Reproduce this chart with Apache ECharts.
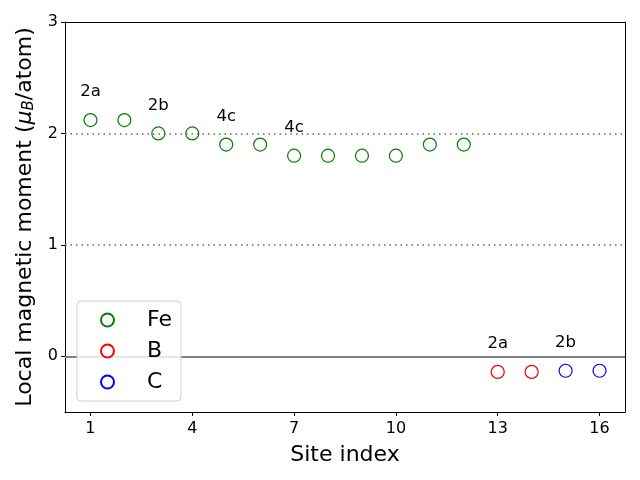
<!DOCTYPE html>
<html><head><meta charset="utf-8">
<script src="https://cdn.jsdelivr.net/npm/echarts@6/dist/echarts.min.js"></script>
<style>html,body{margin:0;padding:0;background:#fff}#c{width:640px;height:480px}</style>
</head><body><div id="c"></div>
<script>
const feSites = [1,2,3,4,5,6,7,8,9,10,11,12];
const feMoments = [2.12,2.12,2.0,2.0,1.9,1.9,1.8,1.8,1.8,1.8,1.9,1.9];
const bSites = [13,14];
const bMoments = [-0.14,-0.14];
const cSites = [15,16];
const cMoments = [-0.13,-0.13];
const annotX = [1,3,5,7,13,15];
const annotY = [2.37,2.25,2.15,2.05,0.11,0.12];
const annotText = ['2a','2b','4c','4c','2a','2b'];
const xTicks = [1,4,7,10,13,16];
const yTicks = [0,1,2,3];
const refLines = [2,1];
const zeroLine = 0;

const font = 'DejaVu Sans';
const pairs = (xs, ys) => xs.map((x,i)=>[x, ys[i]]);
const chart = echarts.init(document.getElementById('c'), null, {renderer:'canvas'});

function pointSeries(name, xs, ys, color){
  return {
    name, type:'scatter', data: pairs(xs, ys), symbol:'circle', symbolSize:13,
    itemStyle:{color:'rgba(255,255,255,0)', borderColor:color, borderWidth:1.2, opacity:1},
    emphasis:{disabled:true},
    z:5
  };
}

const option = {
  animation:false,
  textStyle:{fontFamily:font},
  grid:{left:65, right:15, top:22, bottom:68, containLabel:false},
  xAxis:[{
    type:'value', min:0.25, max:16.75,
    name:'Site index', nameLocation:'middle', nameGap:32,
    nameTextStyle:{fontSize:22, color:'#000', fontFamily:font},
    axisLine:{show:true, onZero:false, lineStyle:{color:'#000', width:1}},
    axisTick:{show:true, length:4, customValues:xTicks, lineStyle:{color:'#000'}},
    axisLabel:{customValues:xTicks, fontSize:16, color:'#000', margin:9, fontFamily:font},
    splitLine:{show:false}
  },{
    type:'value', min:0.25, max:16.75, position:'top',
    axisLine:{show:true, onZero:false, lineStyle:{color:'#000', width:1}},
    axisTick:{show:false}, axisLabel:{show:false}, splitLine:{show:false}
  }],
  yAxis:[{
    type:'value', min:-0.5, max:3,
    name:'{n|Local magnetic moment (}{m|μ}{s|B}{n|/atom)}', nameLocation:'middle', nameGap:28,
    nameTextStyle:{rich:{
      n:{fontSize:22, color:'#000', fontFamily:font},
      m:{fontSize:22, color:'#000', fontFamily:font, fontStyle:'italic'},
      s:{fontSize:15, color:'#000', fontFamily:font, fontStyle:'italic', padding:[9,0,0,0]}
    }},
    axisLine:{show:true, onZero:false, lineStyle:{color:'#000', width:1}},
    axisTick:{show:true, length:4, customValues:yTicks, lineStyle:{color:'#000'}},
    axisLabel:{customValues:yTicks, fontSize:16, color:'#000', margin:7, fontFamily:font},
    splitLine:{show:false}
  },{
    type:'value', min:-0.5, max:3, position:'right',
    axisLine:{show:true, onZero:false, lineStyle:{color:'#000', width:1}},
    axisTick:{show:false}, axisLabel:{show:false}, splitLine:{show:false}
  }],
  legend:{
    orient:'vertical', left:77, top:301, z:10,
    data:['Fe','B','C'],
    itemWidth:13, itemHeight:13, itemGap:9,
    padding:[8,9,8,23],
    backgroundColor:'rgba(255,255,255,0.8)', borderColor:'#d0d0d0', borderWidth:1, borderRadius:4,
    textStyle:{fontSize:22, color:'#000', fontFamily:font, padding:[0,0,0,28]}
  },
  series:[
    pointSeries('Fe', feSites, feMoments, '#008000'),
    pointSeries('B', bSites, bMoments, '#ff0000'),
    pointSeries('C', cSites, cMoments, '#0000ff'),
    {
      type:'scatter', name:'annot', data: annotX.map((x,i)=>[x, annotY[i], annotText[i]]),
      symbolSize:0, silent:true, itemStyle:{opacity:1}, emphasis:{disabled:true},
      label:{show:true, position:'inside', formatter:p=>p.data[2], fontSize:16.5, color:'#000', opacity:1, fontFamily:font},
      z:6
    },
    {
      type:'line', name:'refs', data:[], silent:true,
      markLine:{
        symbol:'none', silent:true, label:{show:false},
        data:[
          ...refLines.map(v=>({yAxis:v, lineStyle:{type:[1.5,4], color:'#666', width:1.5}})),
          {yAxis:zeroLine, lineStyle:{type:'solid', color:'#808080', width:1.8}}
        ]
      },
      z:1
    }
  ]
};
chart.setOption(option);
</script></body></html>
